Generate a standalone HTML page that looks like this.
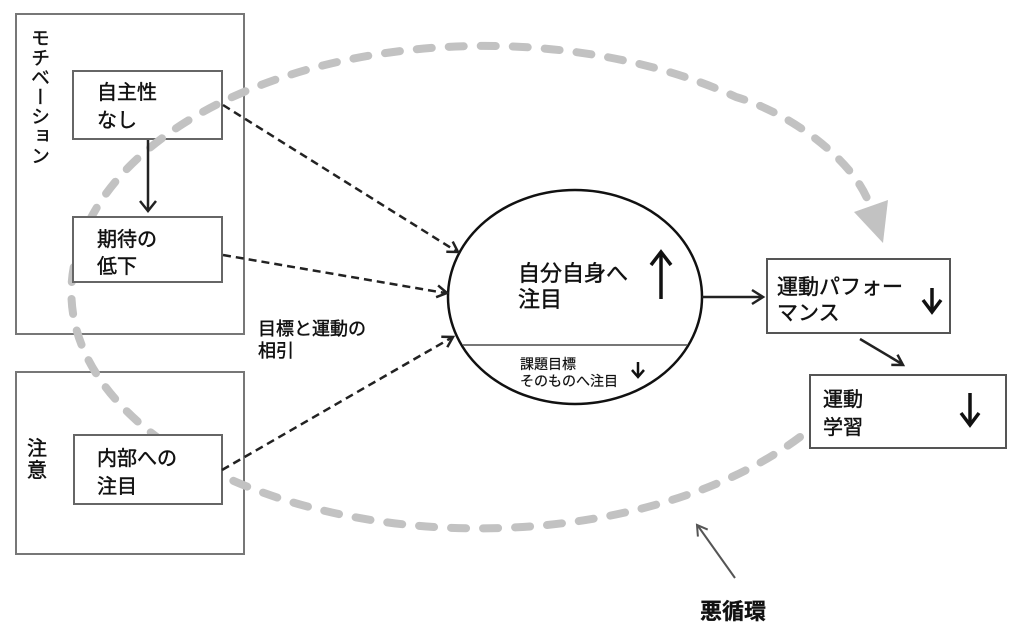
<!DOCTYPE html>
<html><head><meta charset="utf-8">
<style>
html,body{margin:0;padding:0;background:#fff;}
#c{position:relative;width:1024px;height:631px;overflow:hidden;background:#fff;}
svg{position:absolute;left:0;top:0;}
text{font-family:"Liberation Sans","Noto Sans CJK JP",sans-serif;fill:#111;stroke:#111;stroke-width:0.45;}
.vt{position:absolute;left:28px;top:28px;writing-mode:vertical-rl;font-family:"Liberation Sans","Noto Sans CJK JP",sans-serif;font-size:19px;line-height:20px;letter-spacing:0.6px;color:#111;-webkit-text-stroke:0.4px #111;}
</style></head>
<body><div id="c">
<svg width="1024" height="631" viewBox="0 0 1024 631" xmlns="http://www.w3.org/2000/svg">
  <!-- outer boxes -->
  <rect x="16" y="14" width="228" height="320" fill="none" stroke="#777" stroke-width="2"/>
  <rect x="16" y="372" width="228" height="182" fill="none" stroke="#777" stroke-width="2"/>
  <!-- box 自主性 (below loop) -->
  <rect x="73" y="71" width="149" height="68" fill="#fff" stroke="#666" stroke-width="2"/>
  <!-- gray loop -->
  <path d="M800,437 A407,236 0 0 1 78,250 A412,245 0 0 1 736,97 C790,113 855,160 870,206"
        fill="none" stroke="#c2c2c2" stroke-width="8" stroke-linecap="round" stroke-dasharray="15 17"/>
  <polygon points="854,212 888,200 883,243" fill="#c2c2c2"/>
  <!-- other inner boxes -->
  <rect x="73" y="217" width="149" height="65" fill="#fff" stroke="#666" stroke-width="2"/>
  <rect x="74" y="435" width="148" height="69" fill="#fff" stroke="#666" stroke-width="2"/>
  <!-- right boxes -->
  <rect x="767" y="259" width="183" height="74" fill="#fff" stroke="#555" stroke-width="2"/>
  <rect x="810" y="375" width="196" height="73" fill="#fff" stroke="#555" stroke-width="2"/>
  <!-- ellipse -->
  <ellipse cx="575" cy="297" rx="127" ry="107" fill="#fff" stroke="#111" stroke-width="2.5"/>
  <line x1="463" y1="345" x2="687" y2="345" stroke="#777" stroke-width="2"/>

  <!-- arrow 自主性 -> 期待 -->
  <g stroke="#222" stroke-width="2.5" fill="none">
    <line x1="148" y1="140" x2="148" y2="211"/>
    <polyline points="140,201 148,211 156,201"/>
  </g>
  <!-- dashed arrows -->
  <g stroke="#222" stroke-width="2.5" fill="none">
    <line x1="223" y1="105" x2="456" y2="251" stroke-dasharray="8 5"/>
    <polyline points="446.3,251.8 458,252 452.7,241.6"/>
    <line x1="223" y1="255" x2="445" y2="293" stroke-dasharray="8 5"/>
    <polyline points="436.1,297.2 447,293 438.1,285.4"/>
    <line x1="222" y1="470" x2="451" y2="338" stroke-dasharray="8 5"/>
    <polyline points="447.3,347.2 453,337 441.3,336.8"/>
  </g>
  <!-- solid arrows -->
  <g stroke="#222" stroke-width="2.5" fill="none">
    <line x1="702" y1="297" x2="762" y2="297"/>
    <polyline points="752,290 763,297 752,304"/>
    <line x1="860" y1="339" x2="902" y2="364"/>
    <polyline points="891.3,364.9 903,365 897.5,354.7"/>
  </g>
  <!-- up / down arrows -->
  <g stroke="#111" stroke-width="3.5" fill="none" stroke-linejoin="miter">
    <line x1="661" y1="299" x2="661" y2="254"/>
    <polyline points="651,265 661,252 671,265"/>
    <line x1="932" y1="288" x2="932" y2="310"/>
    <polyline points="923,300 932,312 941,300"/>
    <line x1="970" y1="393" x2="970" y2="423"/>
    <polyline points="961,413 970,425 979,413"/>
  </g>
  <g stroke="#111" stroke-width="2.5" fill="none">
    <line x1="638" y1="362" x2="638" y2="376"/>
    <polyline points="632,370 638,377 644,370"/>
  </g>
  <!-- 悪循環 arrow -->
  <g stroke="#555" stroke-width="2" fill="none">
    <line x1="735" y1="578" x2="698" y2="526"/>
    <polyline points="707.7,529.6 697,525 697.9,536.6"/>
  </g>

  <!-- texts -->
  <text x="97" y="99" font-size="20">自主性</text>
  <text x="97" y="127" font-size="20">なし</text>
  <text x="97" y="246" font-size="20">期待の</text>
  <text x="97" y="273" font-size="20">低下</text>
  <text x="97" y="465" font-size="20">内部への</text>
  <text x="97" y="493" font-size="20">注目</text>
  <text x="27" y="455" font-size="20">注</text>
  <text x="27" y="477" font-size="20">意</text>
  <text x="518" y="281" font-size="22">自分自身へ</text>
  <text x="518" y="307" font-size="22">注目</text>
  <text x="520" y="369" font-size="14" style="stroke-width:0.2">課題目標</text>
  <text x="520" y="386" font-size="14" style="stroke-width:0.2">そのものへ注目</text>
  <text x="777" y="294" font-size="21">運動パフォー</text>
  <text x="777" y="320" font-size="21">マンス</text>
  <text x="823" y="406" font-size="20">運動</text>
  <text x="823" y="434" font-size="20">学習</text>
  <text x="258" y="335" font-size="18">目標と運動の</text>
  <text x="258" y="357" font-size="18">相引</text>
  <text x="700" y="619" font-size="22" font-weight="bold" style="stroke-width:0.3">悪循環</text>
</svg>
<div class="vt">モチベーション</div>
</div></body></html>
